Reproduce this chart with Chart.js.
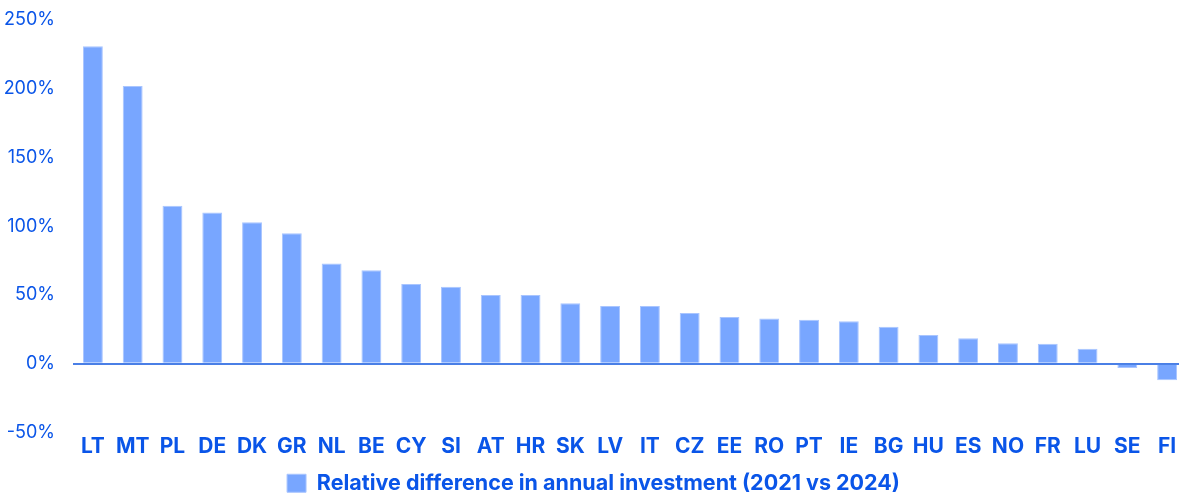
<!DOCTYPE html>
<html>
<head>
<meta charset="utf-8">
<script src="https://cdn.jsdelivr.net/npm/chart.js@4"></script>
<style>
  html, body { margin: 0; padding: 0; background: #fff; overflow: hidden; }
  /* kanvas sedikit lebih lebar dari layar: batang terakhir terpotong di tepi kanan */
  #wrap { width: 1187px; height: 493px; position: relative; }
</style>
</head>
<body>
<div id="wrap"><canvas id="grafikInvestasi"></canvas></div>
<script>
// Negara dan selisih relatif investasi tahunan (%)
const negara = ['LT', 'MT', 'PL', 'DE', 'DK', 'GR', 'NL', 'BE', 'CY', 'SI', 'AT', 'HR', 'SK', 'LV',
                'IT', 'CZ', 'EE', 'RO', 'PT', 'IE', 'BG', 'HU', 'ES', 'NO', 'FR', 'LU', 'SE', 'FI'];
const selisihRelatif = [231, 202, 115, 110, 103, 95, 73, 68, 58, 56, 50, 50, 44, 42,
                        42, 37, 34, 33, 32, 31, 27, 21, 18.5, 15, 14.5, 11, -3, -12];
const tickY = [-50, 0, 50, 100, 150, 200, 250];
const labelSeri = 'Relative difference in annual investment (2021 vs 2024)';

const BIRU_TEKS = '#0a55e8';
const BIRU_BATANG = '#78a6ff';

document.addEventListener('DOMContentLoaded', function () {
    const ctx = document.getElementById('grafikInvestasi');
    new Chart(ctx.getContext('2d'), {
        type: 'bar',
        data: {
            labels: negara,
            datasets: [{
                label: labelSeri,
                data: selisihRelatif,
                backgroundColor: BIRU_BATANG,
                borderColor: '#a9c5ff',
                borderWidth: 1,
                barPercentage: 0.5,
                categoryPercentage: 1.0
            }]
        },
        options: {
            responsive: true, maintainAspectRatio: false, animation: false,
            layout: { padding: { top: 20, right: 0, left: 0, bottom: -11 } },
            plugins: {
                legend: {
                    position: 'bottom',
                    labels: {
                        color: BIRU_TEKS,
                        font: { family: 'Inter', size: 21.5, weight: 'bold' },
                        boxWidth: 19, boxHeight: 18, padding: 6
                    }
                },
                tooltip: { enabled: false }
            },
            scales: {
                x: {
                    afterFit: function (ax) { ax.height = 34; },
                    grid: { display: false },
                    border: { display: false },
                    ticks: {
                        color: BIRU_TEKS, padding: -6,
                        font: { family: 'Inter', size: 21, weight: 'bold' },
                        maxRotation: 0, autoSkip: false
                    }
                },
                y: {
                    min: tickY[0], max: tickY[tickY.length - 1],
                    afterBuildTicks: function (ax) { ax.ticks = tickY.map(function (v) { return { value: v }; }); },
                    afterFit: function (ax) { ax.width = 73; },
                    border: { display: false },
                    grid: {
                        drawTicks: true, tickLength: 18, tickColor: 'rgba(0,0,0,0)',
                        color: function (c) { return c.tick && c.tick.value === 0 ? '#4a7fe6' : 'rgba(0,0,0,0)'; },
                        lineWidth: function (c) { return c.tick && c.tick.value === 0 ? 2 : 0; }
                    },
                    ticks: {
                        color: BIRU_TEKS, padding: 0,
                        font: { family: 'Inter', size: 18 },
                        callback: function (v) { return v + '%'; }
                    }
                }
            }
        }
    });
});
</script>
</body>
</html>
